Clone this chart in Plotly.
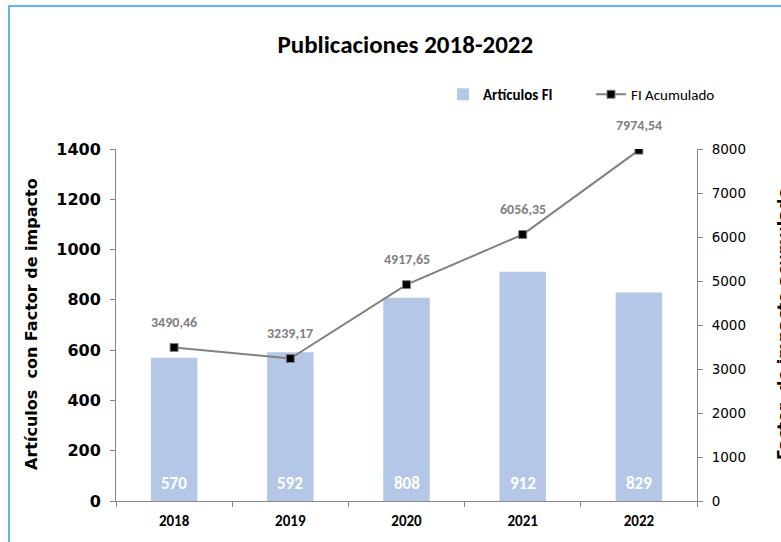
import plotly.graph_objects as go

years = ["2018", "2019", "2020", "2021", "2022"]
articulos = [570, 592, 808, 912, 829]
fi_acumulado = [3490.46, 3239.17, 4917.65, 6056.35, 7974.54]
left_ticks = [0, 200, 400, 600, 800, 1000, 1200, 1400]
right_ticks = [0, 1000, 2000, 3000, 4000, 5000, 6000, 7000, 8000]

FONT = "Carlito, Lato, 'Liberation Sans', sans-serif"
WIDE = "'DejaVu Sans', sans-serif"
W, H = 781, 542
L, R, T, B = 116, 84, 149, 41
pw, ph = W - L - R, H - T - B

def px_x(p):
    return (p - L) / pw

def px_y(p):
    return (H - B - p) / ph

fig = go.Figure()
fig.add_trace(go.Bar(
    x=years, y=articulos, name="<b>Artículos FI</b>",
    marker=dict(color="#b4c7e7", line=dict(width=0)),
    width=0.4,
    yaxis="y",
))
fig.add_trace(go.Scatter(
    x=years, y=fi_acumulado, name="FI Acumulado",
    mode="lines+markers",
    line=dict(color="#808080", width=2),
    marker=dict(symbol="square", size=8, color="black", line=dict(color="#808080", width=1)),
    yaxis="y2",
))

annotations = []
for i, v in enumerate(articulos):
    annotations.append(dict(
        x=i, y=0, xref="x", yref="y", yshift=18, yanchor="middle", xanchor="center",
        text="<b>" + str(v) + "</b>",
        showarrow=False, font=dict(family=FONT, size=17, color="white"),
    ))
for i, v in enumerate(fi_acumulado):
    annotations.append(dict(
        x=i, y=v, xref="x", yref="y2", yshift=25, xanchor="center",
        text="<b>" + f"{v:.2f}".replace(".", ",") + "</b>",
        showarrow=False, font=dict(family=FONT, size=14, color="#7f7f7f"),
    ))
annotations.append(dict(
    x=px_x(31), y=px_y(324), xref="paper", yref="paper",
    xanchor="center", yanchor="middle",
    text="<b>Artículos  con Factor de impacto</b>", textangle=-90,
    showarrow=False, font=dict(family=WIDE, size=16, color="black"),
))
annotations.append(dict(
    x=px_x(783), y=px_y(324), xref="paper", yref="paper",
    xanchor="center", yanchor="middle",
    text="<b>Factor  de impacto acumulado</b>", textangle=-90,
    showarrow=False, font=dict(family=WIDE, size=16, color="black"),
))

fig.update_layout(
    width=W, height=H,
    margin=dict(l=L, r=R, t=T, b=B, pad=0),
    paper_bgcolor="white", plot_bgcolor="white",
    font=dict(family=FONT, color="black"),
    title=dict(text="<b>Publicaciones 2018-2022</b>", x=0.519, xanchor="center",
               y=1 - 44 / H, yanchor="middle",
               font=dict(family=FONT, size=25, color="black")),
    showlegend=True,
    legend=dict(orientation="h", x=px_x(443), y=px_y(78), xanchor="left", yanchor="top",
                font=dict(family=FONT, size=15, color="black"),
                itemwidth=30, entrywidth=103, entrywidthmode="pixels",
                bgcolor="rgba(0,0,0,0)"),
    bargap=0.6,
    xaxis=dict(
        type="category", tickson="boundaries", ticks="outside", ticklen=5,
        ticklabelstandoff=6,
        tickcolor="#868686", showline=True, linecolor="#868686", linewidth=1,
        showgrid=False, tickfont=dict(family=FONT, size=15, color="black"),
        tickvals=years, ticktext=["<b>" + y + "</b>" for y in years],
        tickangle=0, range=[-0.5, 4.5],
    ),
    yaxis=dict(
        range=[0, 1400], tickvals=left_ticks,
        ticktext=["<b>" + str(t) + "</b>" for t in left_ticks],
        ticks="outside", ticklen=5, ticklabelstandoff=6,
        tickcolor="#868686", showline=True, linecolor="#868686", linewidth=1,
        showgrid=False, zeroline=False,
        tickfont=dict(family=WIDE, size=16, color="black"),
    ),
    yaxis2=dict(
        range=[0, 8000], tickvals=right_ticks, overlaying="y", side="right",
        ticks="outside", ticklen=5, ticklabelstandoff=6, tickcolor="#868686",
        showline=True, linecolor="#868686", linewidth=1,
        showgrid=False, zeroline=False,
        tickfont=dict(family=WIDE, size=13.5, color="black"),
    ),
    annotations=annotations,
    shapes=[dict(type="rect", xref="paper", yref="paper",
                 x0=px_x(9), x1=px_x(800), y0=px_y(560), y1=px_y(6),
                 line=dict(color="#27a3d8", width=1.5), layer="below")],
)

fig.write_html("out.html", config={"displayModeBar": False},
               post_script="document.body.style.margin='0';document.body.style.padding='0';")
